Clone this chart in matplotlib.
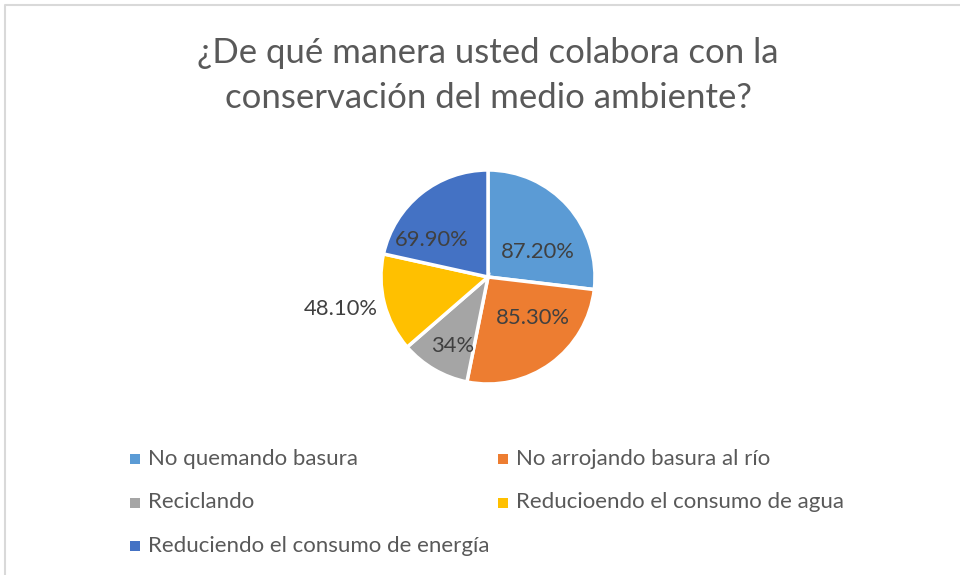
import matplotlib
matplotlib.use("Agg")
import matplotlib.pyplot as plt
import numpy as np

title = "¿De qué manera usted colabora con la\nconservación del medio ambiente?"
categories = ["No quemando basura", "No arrojando basura al río", "Reciclando",
              "Reducioendo el consumo de agua", "Reduciendo el consumo de energía"]
values = [87.2, 85.3, 34, 48.1, 69.9]
value_labels = ["87.20%", "85.30%", "34%", "48.10%", "69.90%"]
colors = ["#5B9BD5", "#ED7D31", "#A5A5A5", "#FFC000", "#4472C4"]

# label placement (fraction of radius, angle tweak in degrees) - styling only
label_r = [0.52, 0.57, 0.73, 1.41, 0.63]
label_dang = [15, -12, -3, 2, -18]

FONT = ["Lato", "DejaVu Sans"]
W, H = 960, 575
fig = plt.figure(figsize=(W / 100, H / 100), dpi=100)
ax = fig.add_axes([0, 0, 1, 1])

cx, cy, R = 488, H - 277, 107
wedges, _ = ax.pie(values, colors=colors, startangle=90, counterclock=False,
                   center=(cx, cy), radius=R,
                   wedgeprops=dict(edgecolor="white", linewidth=2.5))
ax.set_xlim(0, W)
ax.set_ylim(0, H)
ax.set_aspect("equal")
ax.axis("off")

total = sum(values)
cum = np.cumsum([0] + values)
for i, lab in enumerate(value_labels):
    mid = (cum[i] + cum[i + 1]) / 2 / total * 360 + label_dang[i]
    ang = np.deg2rad(90 - mid)
    x = cx + label_r[i] * R * np.cos(ang)
    y = cy + label_r[i] * R * np.sin(ang)
    ax.text(x, y, lab, ha="center", va="center", fontsize=15.8,
            color="#404040", family=FONT)

ax.text(488, H - 53, title.split("\n")[0], ha="center", va="center",
        fontsize=25, color="#595959", family=FONT)
ax.text(488, H - 98, title.split("\n")[1], ha="center", va="center",
        fontsize=25, color="#595959", family=FONT)

# legend (row-major, 2 columns)
for i, (cat, col) in enumerate(zip(categories, colors)):
    r, c = divmod(i, 2)
    lx = 135 + c * 368
    ly = H - (459 + r * 43.5)
    ax.scatter([lx], [ly], marker="s", s=42, color=col, linewidths=0)
    ax.text(lx + 13, ly, cat, ha="left", va="center", fontsize=16,
            color="#595959", family=FONT)

# chart border
ax.plot([5, 5, W], [0, H - 5, H - 5], color="#D9D9D9", linewidth=1.5)

fig.savefig("out.png", dpi=100)
